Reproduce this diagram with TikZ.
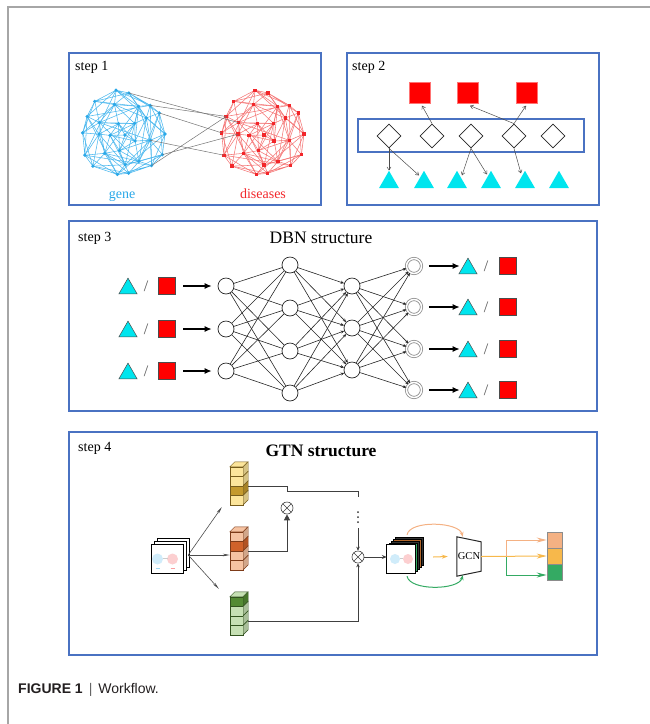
\documentclass[tikz,border=0pt]{standalone}
\usepackage{fontspec}
\setmainfont{Liberation Serif}
\newfontfamily\capfont{Liberation Sans}
\usetikzlibrary{arrows.meta, positioning, calc, shapes.geometric}
\definecolor{frame}{HTML}{A6A6A6}
\definecolor{panelblue}{HTML}{4A72C2}
\definecolor{geneblue}{HTML}{2AA8E8}
\definecolor{genelink}{HTML}{4DB8EE}
\definecolor{disred}{HTML}{F2262A}
\definecolor{dislink}{HTML}{F47777}
\definecolor{tricyan}{HTML}{00E5EE}
\definecolor{sqred}{HTML}{FF0000}
\definecolor{ink}{HTML}{231F20}
\definecolor{ylite}{HTML}{FCE59B}
\definecolor{ydark}{HTML}{C49A2E}
\definecolor{olite}{HTML}{F6C3A2}
\definecolor{odark}{HTML}{D0622A}
\definecolor{glite}{HTML}{C6E0B4}
\definecolor{gdark}{HTML}{548B34}
\definecolor{peach}{HTML}{F4B183}
\definecolor{amber}{HTML}{F7B84B}
\definecolor{leaf}{HTML}{34AA63}
\definecolor{rust}{HTML}{B0652A}
\tikzset{
  panel/.style={draw=panelblue, line width=1.3pt},
  steplabel/.style={font=\fontsize{14}{16}\selectfont, anchor=base west, inner sep=0pt},
  headline/.style={font=\fontsize{17.5}{20}\selectfont, anchor=base, inner sep=0pt},
  bold headline/.style={headline, font=\fontsize{17.5}{20}\selectfont\bfseries},
  tri/.style={regular polygon, regular polygon sides=3, fill=tricyan, inner sep=0pt,
              minimum size=23pt},
  sq/.style={rectangle, fill=sqred, draw=red!55!white, line width=0.4pt, inner sep=0pt,
             minimum size=21pt},
  gem/.style={diamond, draw=black!85, line width=0.8pt, inner sep=0pt, minimum size=24pt},
  thin arrow/.style={-{Straight Barb[length=3pt,width=4pt]}, draw=black!70, line width=0.5pt},
  neuron/.style={circle, draw=black!85, line width=0.7pt, fill=white, minimum size=16pt,
                 inner sep=0pt},
  outneuron/.style={circle, draw=black!45, double=white, double distance=1.5pt,
                    line width=0.8pt, minimum size=15pt, inner sep=0pt},
  wire/.style={draw=black!85, line width=0.6pt},
  wire arrow/.style={wire, -{Stealth[length=3.5pt,width=3pt]}},
  feed/.style={-{Latex[length=7pt,width=6pt]}, line width=1.2pt},
  slash/.style={font=\fontsize{16}{18}\selectfont, text=black!65, inner sep=0pt},
  col/.style={minimum width=13pt, minimum height=38pt, inner sep=0pt},
  fan/.style={-{Stealth[length=7pt,width=2.6pt]}, draw=black!70, line width=0.6pt},
  link/.style={draw=black!75, line width=0.9pt},
  mul/.style={circle, draw=black!75, line width=0.6pt, minimum size=12pt, inner sep=0pt,
    path picture={\draw[black!75, line width=0.6pt]
      (path picture bounding box.north west) -- (path picture bounding box.south east)
      (path picture bounding box.south west) -- (path picture bounding box.north east);}},
  cell/.style={rectangle, draw=black!45, line width=0.6pt, minimum width=15pt,
               minimum height=16pt, inner sep=0pt},
  tip/.style={-{Stealth[length=10pt,width=5pt]}, line width=1pt},
}
% a ball of nodes and links: prefix, centre, link colour, dot colour, dot path
\newcommand{\hairball}[5]{%
  \foreach \k in {0,...,13}
    \coordinate (#1o\k) at ($(#2)+({\k*360/14+5*sin(\k*157)}:{42+2.5*sin(\k*83)})$);
  \foreach \k in {0,...,8}
    \coordinate (#1m\k) at ($(#2)+({\k*40+13+8*sin(\k*121)}:{28+4*sin(\k*67)})$);
  \foreach \k in {0,...,4}
    \coordinate (#1i\k) at ($(#2)+({\k*72+30}:{14+3*sin(\k*99)})$);
  \coordinate (#1c) at ($(#2)+(2,1)$);
  \begin{scope}[#3, line width=0.55pt]
    \foreach \k in {0,...,13}{
      \pgfmathtruncatemacro\na{mod(\k+1,14)}
      \pgfmathtruncatemacro\nb{mod(\k+2,14)}
      \pgfmathtruncatemacro\nc{mod(\k+4,14)}
      \pgfmathtruncatemacro\ma{mod(floor((\k*360/14-13)/40)+9,9)}
      \pgfmathtruncatemacro\mb{mod(\ma+1,9)}
      \pgfmathtruncatemacro\mc{mod(\ma+2,9)}
      \draw (#1o\k) -- (#1o\na) (#1o\k) -- (#1o\nb) (#1o\k) -- (#1m\ma) (#1o\k) -- (#1m\mb);
      \ifodd\k \draw (#1o\k) -- (#1m\mc); \else \draw (#1o\k) -- (#1o\nc); \fi
    }
    \foreach \k in {0,...,8}{
      \pgfmathtruncatemacro\na{mod(\k+1,9)}
      \pgfmathtruncatemacro\nb{mod(\k+2,9)}
      \pgfmathtruncatemacro\nc{mod(\k+4,9)}
      \pgfmathtruncatemacro\ia{mod(round((\k*40-17)/72)+5,5)}
      \pgfmathtruncatemacro\ib{mod(\ia+1,5)}
      \draw (#1m\k) -- (#1m\na) (#1m\k) -- (#1m\nb) (#1m\k) -- (#1i\ia) (#1m\k) -- (#1i\ib);
      \ifodd\k \draw (#1m\k) -- (#1m\nc); \fi
    }
    \foreach \k in {0,...,4}{
      \pgfmathtruncatemacro\na{mod(\k+1,5)}
      \pgfmathtruncatemacro\nb{mod(\k+2,5)}
      \draw (#1i\k) -- (#1i\na) (#1i\k) -- (#1i\nb) (#1i\k) -- (#1c);
    }
  \end{scope}
  \foreach \k in {0,...,13} \fill[#4] (#1o\k) #5;
  \foreach \k in {0,...,8} \fill[#4] (#1m\k) #5;
  \foreach \k in {0,...,4} \fill[#4] (#1i\k) #5;
  \fill[#4] (#1c) #5;
}
% a 3d column of four cells sitting on a node: node, light, dark, dark cell
\newcommand{\featcol}[4]{%
  \foreach \c in {1,...,4}{
    \ifnum\c=#4\relax \def\cellc{#3}\else \def\cellc{#2}\fi
    \filldraw[fill=\cellc, draw=#3!60!black, line width=0.4pt]
      ($(#1.north west)+(0,{(\c-1)*9.5})$) rectangle +(13,9.5);
    \filldraw[fill=\cellc!85!black, draw=#3!60!black, line width=0.4pt]
      ($(#1.north east)+(0,{(\c-1)*9.5})$) -- +(5,-5) -- +(5,4.5) -- +(0,9.5) -- cycle;
  }
  \filldraw[fill=#2, draw=#3!60!black, line width=0.4pt]
    (#1.north west) -- +(5,-5) -- +(18,-5) -- +(13,0) -- cycle;
}
\begin{document}
\begin{tikzpicture}[x=1pt, y=-1pt]
  \useasboundingbox (0,0) rectangle (650,724);
  \draw[frame, line width=1.2pt] (8,724) -- (8,7) -- (650,7);

  \draw[panel] (69,53) rectangle (321,205);
  \draw[panel] (347,53) rectangle (599,205);
  \draw[panel] (69,221) rectangle (597,411);
  \draw[panel] (69,432) rectangle (597,655);

  % step 1: gene and disease networks
  \node[steplabel] (s1) at (75,70) {step 1};
  \coordinate (genes) at (123,134);
  \coordinate (dis) at (262,134);
  \hairball{gn}{genes}{genelink}{geneblue}{circle (1.8)}
  \hairball{ds}{dis}{dislink}{disred}{+(-1.7,-1.7) rectangle +(1.7,1.7)}
  \foreach \a/\b in {o11/m5, o12/o8, o13/o7, m0/o6, o1/m4, o2/o8}
    \draw[black!55, line width=0.5pt] (gn\a) -- (ds\b);
  \node[font=\fontsize{14}{16}\selectfont, text=geneblue, anchor=base] (genelbl) at (122,198) {gene};
  \node[font=\fontsize{14}{16}\selectfont, text=disred, anchor=base] (dislbl) at (263,198) {diseases};

  % step 2
  \node[steplabel] (s2) at (352,70) {step 2};
  \node[sq] (rq1) at (420,93) {};
  \node[sq] (rq2) at (468,93) {};
  \node[sq] (rq3) at (527,93) {};
  \node[draw=panelblue, line width=1.1pt, minimum width=226pt, minimum height=33pt,
        inner sep=0pt] (hid) at (471,135.5) {};
  \foreach \x [count=\i] in {389,432,471,514,553}
    \node[gem] (lat\i) at (\x,136) {};
  \foreach \x [count=\i] in {389,424,457,491,525,559}
    \node[tri] (tr\i) at (\x,182.3) {};
  \draw[thin arrow] (lat2.north) -- ($(rq1.south)+(2,2)$);
  \draw[thin arrow] (lat4.north) -- ($(rq2.south)+(2,2)$);
  \draw[thin arrow] (lat4.north) -- ($(rq3.south)+(-1,2)$);
  \draw[thin arrow] (lat1.south) -- (tr1.corner 1);
  \draw[thin arrow] (lat1.south) -- ($(tr2.corner 1)+(-5,5)$);
  \draw[thin arrow] (lat3.south) -- ($(tr3.corner 1)+(5,5)$);
  \draw[thin arrow] (lat3.south) -- ($(tr4.corner 1)+(-4,4)$);
  \draw[thin arrow] (lat4.south) -- ($(tr5.corner 1)+(-4,3)$);

  % step 3: DBN
  \node[steplabel] (s3) at (78,241) {step 3};
  \node[headline] (dbn) at (321,243) {DBN structure};
  \foreach \r/\y in {1/286,2/329,3/371}{
    \node[tri, draw=black!70, line width=0.5pt, minimum size=21pt] (it\r) at (128,\y+2.6) {};
    \node[slash] (isl\r) at (146,\y) {/};
    \node[sq, draw=black!70, minimum size=17pt] (iq\r) at (167,\y) {};
    \node[neuron] (a\r) at (226,\y) {};
    \draw[feed, shorten <=7.5pt, shorten >=6pt] (iq\r) -- (a\r);
  }
  \foreach \r/\y in {1/265,2/308,3/351,4/393}
    \node[neuron] (b\r) at (290,\y) {};
  \foreach \r/\y in {1/286,2/328,3/370}
    \node[neuron] (c\r) at (352,\y) {};
  \foreach \r/\y in {1/266,2/307,3/349,4/390}{
    \node[outneuron] (d\r) at (414,\y) {};
    \node[tri, draw=black!70, line width=0.5pt, minimum size=21pt] (ot\r) at (468,\y+2.6) {};
    \node[slash] (osl\r) at (486,\y) {/};
    \node[sq, draw=black!70, minimum size=17pt] (oq\r) at (508,\y) {};
    \draw[feed, shorten <=7pt, shorten >=2pt] (d\r) -- (d\r -| ot\r.west);
  }
  \foreach \i in {1,2,3}
    \foreach \j in {1,...,4}
      \draw[wire] (a\i) -- (b\j);
  \foreach \i in {1,...,4}
    \foreach \j in {1,2,3}
      \draw[wire arrow] (b\i) -- (c\j);
  \foreach \i in {1,2,3}
    \foreach \j in {1,...,4}
      \draw[wire arrow] (c\i) -- (d\j);

  % step 4: GTN
  \node[steplabel] (s4) at (78,451) {step 4};
  \node[bold headline] (gtn) at (321,456) {GTN structure};

  \path node[minimum width=31pt, minimum height=28pt, inner sep=0pt] (stk1) at (167.5,559) {};
  \foreach \s in {6,3}
    \filldraw[fill=white, draw=black, line width=0.9pt]
      ($(stk1.south west)+(\s,-\s)$) rectangle ($(stk1.north east)+(\s,-\s)$);
  \filldraw[fill=white, draw=black, line width=1pt] (stk1.south west) rectangle (stk1.north east);
  \fill[geneblue!22] ($(stk1.center)+(-10,0)$) circle (5.5);
  \fill[disred!22] ($(stk1.center)+(5,0)$) circle (5.5);
  \draw[black!20, line width=0.5pt] ($(stk1.center)+(-5,-1)$) -- ($(stk1.center)+(0,-1)$);
  \draw[geneblue!45, line width=0.7pt] ($(stk1.center)+(-12,9)$) -- +(4,0);
  \draw[disred!45, line width=0.7pt] ($(stk1.center)+(3,9)$) -- +(4,0);

  \node[col] (coly) at (236.5,486) {};
  \node[col] (colo) at (236.5,551) {};
  \node[col] (colg) at (236.5,616) {};
  \featcol{coly}{ylite}{ydark}{3}
  \featcol{colo}{olite}{odark}{2}
  \featcol{colg}{glite}{gdark}{1}

  \coordinate (fanout) at ($(stk1.east)+(5,-4)$);
  \draw[fan] (fanout) -- ($(coly.south west)+(-8,2)$);
  \draw[fan] (fanout) -- (fanout -| colo.west);
  \draw[fan] (fanout) -- ($(colg.north west)+(-11,-8)$);

  \node[mul] (mul1) at (287,508) {};
  \node[mul] (mul2) at (358,557) {};
  \coordinate (joinA) at (287,491);
  \coordinate (joinB) at (358,491);
  % three dots on the way down to the second product
  \path node[minimum width=3pt, minimum height=14pt, inner sep=0pt] (vdots) at (358,517) {};
  \foreach \t in {-5,0,5}
    \fill[black!80] ($(vdots.center)+(0,\t)$) circle (1);
  \draw[link] ([xshift=5pt]coly.east) -| (joinA) -- (joinB) -- ++(0,6);
  \draw[link, -{Stealth[length=4pt,width=3.5pt]}] ([yshift=-4pt]vdots.south) -- (mul2.north);
  \draw[link, -{Triangle[length=6pt,width=6pt]}] ([xshift=5pt]colo.east) -| (mul1.south);
  \draw[link, -{Stealth[length=4pt,width=3.5pt]}] ([xshift=5pt,yshift=-5pt]colg.east) -| (mul2.south);

  \path node[minimum width=28pt, minimum height=28pt, inner sep=0pt] (stk2) at (401,559) {};
  \foreach \s/\c in {8/black!80, 6/rust, 4/black!80, 2/leaf}
    \filldraw[fill=\c, draw=black, line width=0.5pt]
      ($(stk2.south west)+(\s,-\s)$) rectangle ($(stk2.north east)+(\s,-\s)$);
  \filldraw[fill=white, draw=black, line width=1pt] (stk2.south west) rectangle (stk2.north east);
  \fill[geneblue!22] ($(stk2.center)+(-6,0)$) circle (5);
  \fill[disred!22] ($(stk2.center)+(7,0)$) circle (5);
  \draw[black!20, line width=0.5pt] ($(stk2.center)+(-1,-1)$) -- ($(stk2.center)+(2,-1)$);
  \draw[link, -{Stealth[length=5pt,width=4pt]}] (mul2) -- (mul2 -| stk2.west);

  \node[inner sep=0pt, minimum width=24pt, minimum height=39pt,
        font=\fontsize{10.5}{12}\selectfont] (gcn) at (469,556.5) {GCN};
  \draw[black!85, line width=1pt] (gcn.north west) -- (gcn.south west)
    -- ($(gcn.south east)+(0,-5)$) -- ($(gcn.north east)+(0,5)$) -- cycle;

  \draw[peach, line width=1pt, -{Stealth[length=5pt,width=4pt]}]
    ($(stk2.north)+(6,-10)$) .. controls +(3,-15) and +(-4,-15) .. ($(gcn.north west)+(6,0)$);
  \draw[leaf, line width=1pt, -{Stealth[length=5pt,width=4pt]}]
    ($(stk2.south)+(6,3)$) .. controls +(3,15) and +(-4,15) .. ($(gcn.south west)+(6,-1)$);
  \draw[amber, line width=1pt, -{Stealth[length=6pt,width=4pt]}]
    ($(stk2.east)+(18,-2)$) -- ($(gcn.west)+(-9,0)$);

  \node[cell, fill=peach] (res1) at (554.5,540) {};
  \node[cell, fill=amber] (res2) at (554.5,556) {};
  \node[cell, fill=leaf] (res3) at (554.5,572) {};
  \coordinate (fork) at (506,557);
  \draw[tip, amber] (gcn.east) -- (res2.west);
  \draw[tip, peach] (fork) |- (res1.west);
  \draw[tip, leaf] (fork) |- ($(res3.west)+(0,3)$);

  % caption
  \node[anchor=base west, inner sep=0pt, text=ink, font=\capfont\fontsize{14}{16}\selectfont]
    (cap) at (18,693) {\textbf{FIGURE 1}\hspace{6pt}{\color{black!60}|}\hspace{6pt}Workflow.};
\end{tikzpicture}
\end{document}
